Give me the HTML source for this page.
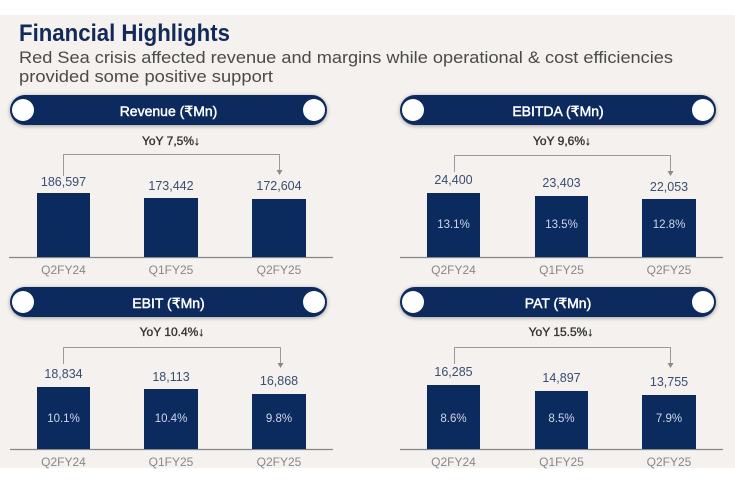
<!DOCTYPE html>
<html><head><meta charset="utf-8"><style>
html,body{margin:0;padding:0;background:#fff;}
svg{display:block;}
text{font-family:"Liberation Sans","DejaVu Sans",sans-serif;}
.pt{fill:#fff;font-size:14px;text-anchor:middle;stroke:#fff;stroke-width:0.45px;}
.yoy{fill:#333;font-size:12px;text-anchor:middle;stroke:#333;stroke-width:0.35px;}
.val{fill:#3a4d73;font-size:12.5px;text-anchor:middle;}
.lab{fill:#888;font-size:12px;text-anchor:middle;}
.pc{fill:#cfd7e6;font-size:11.5px;text-anchor:middle;}
</style></head><body>
<svg width="735" height="485" viewBox="0 0 735 485" xmlns="http://www.w3.org/2000/svg">
<defs>
<filter id="sh" x="-5%" y="-40%" width="110%" height="180%">
<feGaussianBlur in="SourceAlpha" stdDeviation="2"/>
<feOffset dx="0" dy="1"/>
<feComponentTransfer><feFuncA type="linear" slope="0.35"/></feComponentTransfer>
<feMerge><feMergeNode/><feMergeNode in="SourceGraphic"/></feMerge>
</filter>
</defs>
<rect x="0" y="15" width="735" height="453" fill="#f4f1ee"/>
<text x="19" y="41" font-size="24" font-weight="bold" fill="#13295a" textLength="211" lengthAdjust="spacingAndGlyphs">Financial Highlights</text>
<text x="19" y="63" font-size="17" fill="#4a4a4a" textLength="654" lengthAdjust="spacingAndGlyphs">Red Sea crisis affected revenue and margins while operational &amp; cost efficiencies</text>
<text x="19" y="82" font-size="17" fill="#4a4a4a" textLength="254" lengthAdjust="spacingAndGlyphs">provided some positive support</text>

<!-- pills -->
<g filter="url(#sh)">
<rect x="10" y="95" width="317" height="30" rx="15" fill="#0b2a5e"/>
<rect x="400" y="95" width="316" height="30" rx="15" fill="#0b2a5e"/>
<rect x="10" y="287" width="317" height="30" rx="15" fill="#0b2a5e"/>
<rect x="400" y="287" width="316" height="30" rx="15" fill="#0b2a5e"/>
</g>
<g fill="#fff">
<circle cx="23" cy="110" r="11"/><circle cx="314" cy="110" r="11"/>
<circle cx="413" cy="110" r="11"/><circle cx="703" cy="110" r="11"/>
<circle cx="23" cy="302" r="11"/><circle cx="314" cy="302" r="11"/>
<circle cx="413" cy="302" r="11"/><circle cx="703" cy="302" r="11"/>
</g>
<text class="pt" x="168.5" y="116">Revenue (₹Mn)</text>
<text class="pt" x="558" y="116">EBITDA (₹Mn)</text>
<text class="pt" x="168.5" y="308">EBIT (₹Mn)</text>
<text class="pt" x="558" y="308">PAT (₹Mn)</text>

<text class="yoy" x="171" y="145">YoY 7,5%↓</text>
<text class="yoy" x="562" y="145">YoY 9,6%↓</text>
<text class="yoy" x="172" y="336">YoY 10.4%↓</text>
<text class="yoy" x="561" y="336">YoY 15.5%↓</text>

<!-- brackets -->
<g fill="none" stroke="#9a9a9a" stroke-width="1">
<polyline points="63.5,176 63.5,154.5 279.5,154.5 279.5,171"/>
<polyline points="454.5,172 454.5,155.5 670.5,155.5 670.5,172"/>
<polyline points="63.5,364 63.5,347.5 280.5,347.5 280.5,364"/>
<polyline points="454.5,364 454.5,347.5 670.5,347.5 670.5,364"/>
</g>
<g fill="#8a8a8a">
<polygon points="276.5,170 282.5,170 279.5,175"/>
<polygon points="667.5,171 673.5,171 670.5,176"/>
<polygon points="277.5,363 283.5,363 280.5,368"/>
<polygon points="667.5,363 673.5,363 670.5,368"/>
</g>

<!-- baselines -->
<g stroke="#888" stroke-width="1.2">
<line x1="9" y1="257.5" x2="333" y2="257.5"/>
<line x1="400" y1="257.5" x2="723" y2="257.5"/>
<line x1="10" y1="449.5" x2="333" y2="449.5"/>
<line x1="400" y1="449.5" x2="723" y2="449.5"/>
</g>

<!-- bars -->
<g fill="#0b2a5e">
<rect x="37" y="193" width="53" height="64"/>
<rect x="144" y="198" width="54" height="59"/>
<rect x="252" y="199" width="54" height="58"/>
<rect x="427" y="193" width="53" height="64"/>
<rect x="535" y="196" width="53" height="61"/>
<rect x="642" y="199" width="54" height="58"/>
<rect x="37" y="387" width="53" height="62"/>
<rect x="144" y="389" width="54" height="60"/>
<rect x="252" y="394" width="54" height="55"/>
<rect x="427" y="385" width="53" height="64"/>
<rect x="535" y="391" width="53" height="58"/>
<rect x="642" y="395" width="54" height="54"/>
</g>

<!-- values -->
<text class="val" x="63.5" y="186">186,597</text>
<text class="val" x="171" y="190">173,442</text>
<text class="val" x="279" y="190">172,604</text>
<text class="val" x="453.5" y="184">24,400</text>
<text class="val" x="561.5" y="187">23,403</text>
<text class="val" x="669" y="191">22,053</text>
<text class="val" x="63.5" y="378">18,834</text>
<text class="val" x="171" y="381">18,113</text>
<text class="val" x="279" y="385">16,868</text>
<text class="val" x="453.5" y="376">16,285</text>
<text class="val" x="561.5" y="382">14,897</text>
<text class="val" x="669" y="386">13,755</text>

<!-- percents -->
<text class="pc" x="453.5" y="228">13.1%</text>
<text class="pc" x="561.5" y="228">13.5%</text>
<text class="pc" x="669" y="228">12.8%</text>
<text class="pc" x="63.5" y="422">10.1%</text>
<text class="pc" x="171" y="422">10.4%</text>
<text class="pc" x="279" y="422">9.8%</text>
<text class="pc" x="453.5" y="422">8.6%</text>
<text class="pc" x="561.5" y="422">8.5%</text>
<text class="pc" x="669" y="422">7.9%</text>

<!-- labels -->
<text class="lab" x="63.5" y="274">Q2FY24</text>
<text class="lab" x="171" y="274">Q1FY25</text>
<text class="lab" x="279" y="274">Q2FY25</text>
<text class="lab" x="453.5" y="274">Q2FY24</text>
<text class="lab" x="561.5" y="274">Q1FY25</text>
<text class="lab" x="669" y="274">Q2FY25</text>
<text class="lab" x="63.5" y="466">Q2FY24</text>
<text class="lab" x="171" y="466">Q1FY25</text>
<text class="lab" x="279" y="466">Q2FY25</text>
<text class="lab" x="453.5" y="466">Q2FY24</text>
<text class="lab" x="561.5" y="466">Q1FY25</text>
<text class="lab" x="669" y="466">Q2FY25</text>
</svg>
</body></html>
